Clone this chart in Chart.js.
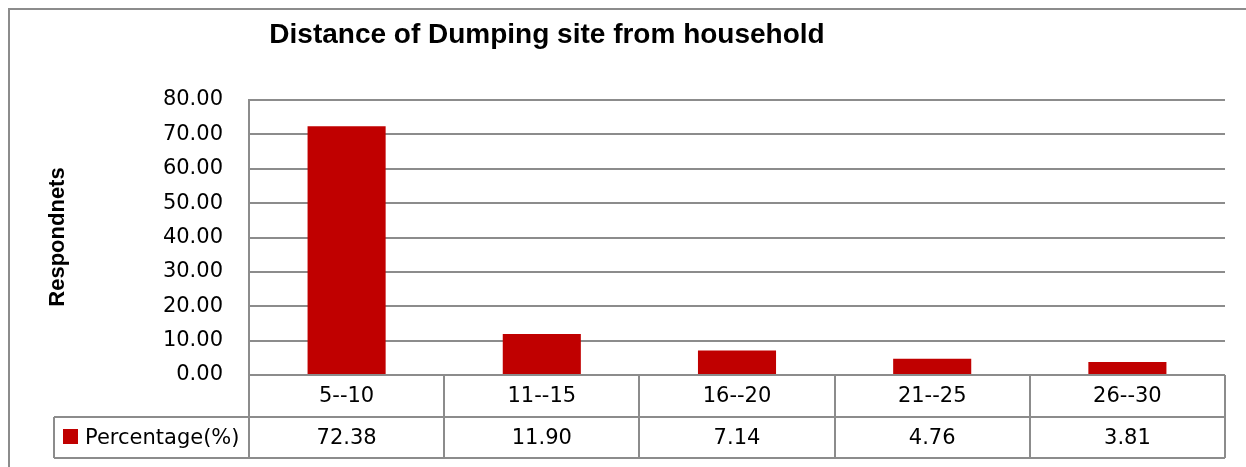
<!DOCTYPE html>
<html>
<head>
<meta charset="utf-8">
<script src="https://cdn.jsdelivr.net/npm/chart.js@4.4.0/dist/chart.umd.min.js"></script>
<style>
  html, body { margin: 0; padding: 0; background: #fff; }
  canvas { display: block; }
</style>
</head>
<body>
<canvas id="chart" width="1246" height="467"></canvas>
<script>
// data
const categories = ['5--10', '11--15', '16--20', '21--25', '26--30'];
const percentages = [72.38, 11.90, 7.14, 4.76, 3.81];
const seriesName = 'Percentage(%)';
const chartTitle = 'Distance of Dumping site from household';
const yTitle = 'Respondnets';
const yMin = 0, yMax = 80, yStep = 10;

const barColor = '#c00000';
const lineColor = '#8c8c8c';
const bodyFont = '21px "DejaVu Sans", sans-serif';

// frame, titles and the data table under the plot
const decorations = {
  id: 'decorations',
  beforeDraw(chart) {
    const ctx = chart.ctx;
    ctx.save();
    ctx.fillStyle = '#fff';
    ctx.fillRect(0, 0, chart.width, chart.height);

    ctx.strokeStyle = lineColor;
    ctx.lineWidth = 2;
    ctx.beginPath();
    ctx.moveTo(9, chart.height);
    ctx.lineTo(9, 9);
    ctx.lineTo(chart.width, 9);
    ctx.stroke();

    ctx.fillStyle = '#000';
    ctx.font = 'bold 28px "Liberation Sans", Arial, sans-serif';
    ctx.textAlign = 'center';
    ctx.textBaseline = 'alphabetic';
    ctx.fillText(chartTitle, 547, 43);

    ctx.translate(58, 237);
    ctx.rotate(-Math.PI / 2);
    ctx.font = 'bold 22px "Liberation Sans", Arial, sans-serif';
    ctx.textBaseline = 'middle';
    ctx.fillText(yTitle, 0, 0);
    ctx.restore();
  },
  afterDraw(chart) {
    const ctx = chart.ctx;
    const a = chart.chartArea;
    const top = Math.round(a.bottom);
    const mid = top + 42;
    const bot = mid + 41;
    const legendLeft = 54;
    const colW = (a.right - a.left) / categories.length;

    ctx.save();
    ctx.strokeStyle = lineColor;
    ctx.lineWidth = 2;
    ctx.beginPath();
    ctx.moveTo(a.left, top); ctx.lineTo(a.right, top);
    ctx.moveTo(legendLeft, mid); ctx.lineTo(a.right, mid);
    ctx.moveTo(legendLeft, bot); ctx.lineTo(a.right, bot);
    for (let i = 0; i <= categories.length; i++) {
      const x = Math.round(a.left + i * colW);
      ctx.moveTo(x, top);
      ctx.lineTo(x, bot);
    }
    ctx.moveTo(legendLeft, mid); ctx.lineTo(legendLeft, bot);
    ctx.stroke();

    ctx.fillStyle = '#000';
    ctx.font = bodyFont;
    ctx.textAlign = 'center';
    ctx.textBaseline = 'middle';
    categories.forEach((c, i) => {
      const cx = a.left + (i + 0.5) * colW;
      ctx.fillText(c, cx, (top + mid) / 2 + 1);
      ctx.fillText(percentages[i].toFixed(2), cx, (mid + bot) / 2 + 1);
    });

    ctx.fillStyle = barColor;
    ctx.fillRect(63, 429, 15, 15);
    ctx.fillStyle = '#000';
    ctx.textAlign = 'left';
    ctx.fillText(seriesName, 85, (mid + bot) / 2 + 1);
    ctx.restore();
  }
};

new Chart(document.getElementById('chart'), {
  type: 'bar',
  data: {
    labels: categories,
    datasets: [{
      label: seriesName,
      data: percentages,
      backgroundColor: barColor,
      barPercentage: 0.4,
      categoryPercentage: 1.0
    }]
  },
  options: {
    responsive: false,
    animation: false,
    layout: { padding: { top: 100, right: 21, bottom: 92, left: 0 } },
    plugins: {
      legend: { display: false },
      title: { display: false },
      tooltip: { enabled: false }
    },
    scales: {
      x: { display: false },
      y: {
        min: yMin,
        max: yMax,
        ticks: {
          stepSize: yStep,
          padding: 26,
          color: '#000',
          font: { family: '"DejaVu Sans", sans-serif', size: 21 },
          callback: v => v.toFixed(2)
        },
        grid: { color: lineColor, lineWidth: 2, drawTicks: false },
        border: { display: true, color: lineColor, width: 2 },
        afterFit: scale => { scale.width = 249; }
      }
    }
  },
  plugins: [decorations]
});
</script>
</body>
</html>
